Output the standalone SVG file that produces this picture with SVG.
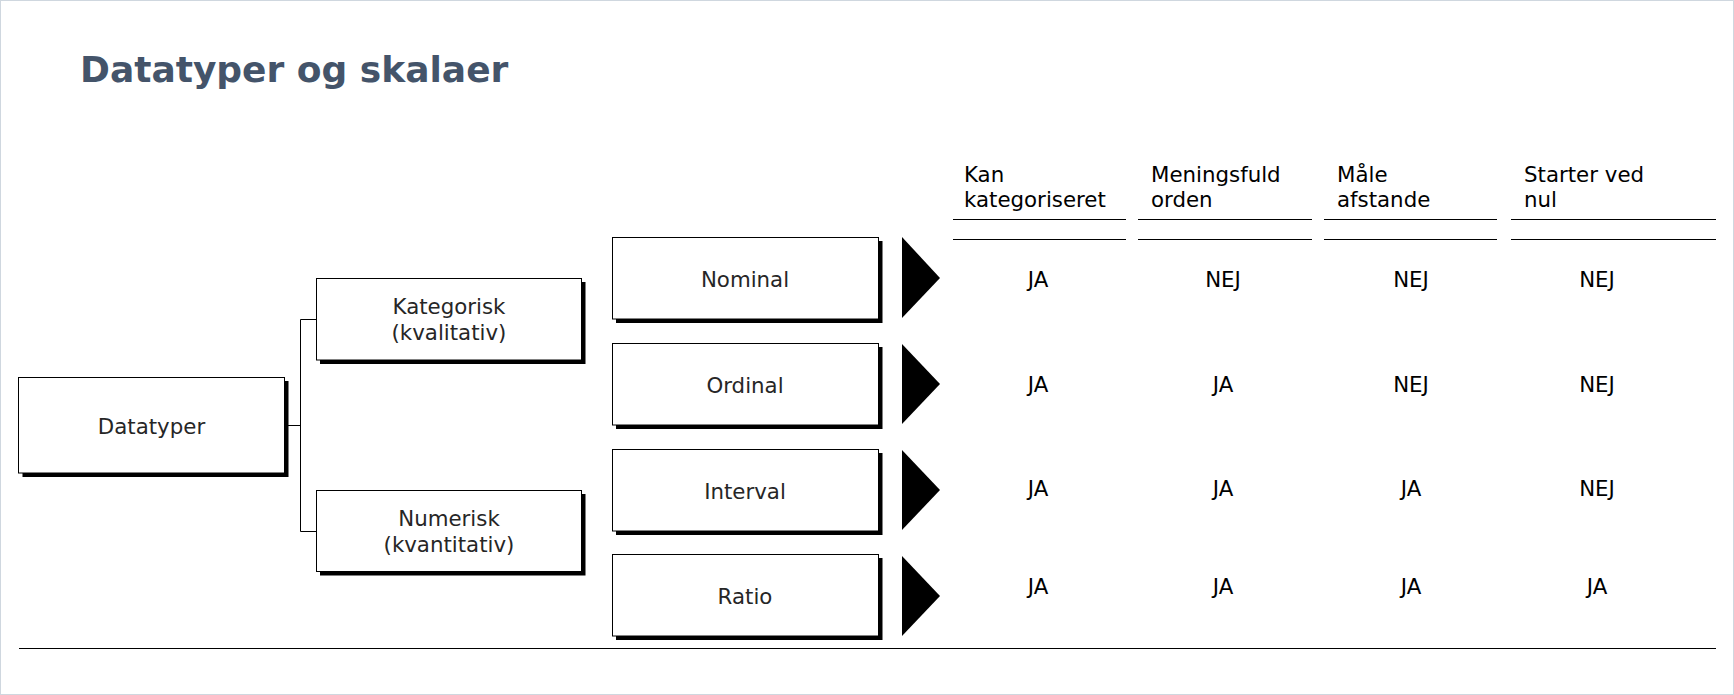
<svg xmlns="http://www.w3.org/2000/svg" width="1734" height="695" viewBox="0 0 1734 695">
<style>
.bg{fill:#ffffff;stroke:#cfd7df;stroke-width:1}
.title{font-family:"DejaVu Sans",sans-serif;font-weight:bold;font-size:36px;fill:#44546a}
.box{fill:#ffffff;stroke:#000000;stroke-width:1}
.shadow{fill:#000000}
.lbl{font-family:"DejaVu Sans",sans-serif;font-size:21.33px;fill:#262626;text-anchor:middle}
.hdr{font-family:"DejaVu Sans",sans-serif;font-size:21.33px;fill:#000000}
.val{font-family:"DejaVu Sans",sans-serif;font-size:21.33px;fill:#000000;text-anchor:middle}
.ln{stroke:#000000;stroke-width:1;fill:none}
.tri{fill:#000000}
</style>
<rect class="bg" x="0.5" y="0.5" width="1733" height="694"/>
<text class="title" x="80" y="82">Datatyper og skalaer</text>

<g id="connectors">
<polyline class="ln" points="284.5,425.5 300.5,425.5"/>
<polyline class="ln" points="316,319.5 300.5,319.5 300.5,531.5 316,531.5"/>
</g>

<g id="node-datatyper">
<rect class="shadow" x="22.5" y="381" width="266" height="96"/>
<rect class="box" x="18.5" y="377.5" width="266" height="95.5"/>
<text class="lbl" x="151.5" y="434">Datatyper</text>
</g>

<g id="node-kategorisk">
<rect class="shadow" x="320" y="282" width="265.5" height="82"/>
<rect class="box" x="316.5" y="278.5" width="265" height="81.5"/>
<text class="lbl" x="449" y="314">Kategorisk</text>
<text class="lbl" x="449" y="340">(kvalitativ)</text>
</g>

<g id="node-numerisk">
<rect class="shadow" x="320" y="494" width="265.5" height="81.5"/>
<rect class="box" x="316.5" y="490.5" width="265" height="81"/>
<text class="lbl" x="449" y="526">Numerisk</text>
<text class="lbl" x="449" y="552">(kvantitativ)</text>
</g>

<g id="node-nominal">
<rect class="shadow" x="616" y="241" width="266.5" height="82"/>
<rect class="box" x="612.5" y="237.5" width="266" height="81.5"/>
<text class="lbl" x="745" y="287">Nominal</text>
<polygon class="tri" points="902,237 940,278 902,318"/>
</g>

<g id="node-ordinal">
<rect class="shadow" x="616" y="347" width="266.5" height="82"/>
<rect class="box" x="612.5" y="343.5" width="266" height="81.5"/>
<text class="lbl" x="745" y="393">Ordinal</text>
<polygon class="tri" points="902,344 940,384 902,424"/>
</g>

<g id="node-interval">
<rect class="shadow" x="616" y="453" width="266.5" height="82"/>
<rect class="box" x="612.5" y="449.5" width="266" height="81.5"/>
<text class="lbl" x="745" y="499">Interval</text>
<polygon class="tri" points="902,450 940,490 902,530"/>
</g>

<g id="node-ratio">
<rect class="shadow" x="616" y="558" width="266.5" height="82"/>
<rect class="box" x="612.5" y="554.5" width="266" height="81.5"/>
<text class="lbl" x="745" y="604">Ratio</text>
<polygon class="tri" points="902,556 940,596 902,636"/>
</g>

<g id="table-header">
<text class="hdr" x="964" y="182">Kan</text>
<text class="hdr" x="964" y="207">kategoriseret</text>
<text class="hdr" x="1151" y="182">Meningsfuld</text>
<text class="hdr" x="1151" y="207">orden</text>
<text class="hdr" x="1337" y="182">Måle</text>
<text class="hdr" x="1337" y="207">afstande</text>
<text class="hdr" x="1524" y="182">Starter ved</text>
<text class="hdr" x="1524" y="207">nul</text>
<g class="ln">
<line x1="953" y1="219.5" x2="1126" y2="219.5"/>
<line x1="1138" y1="219.5" x2="1312" y2="219.5"/>
<line x1="1324" y1="219.5" x2="1497" y2="219.5"/>
<line x1="1511" y1="219.5" x2="1716" y2="219.5"/>
<line x1="953" y1="239.5" x2="1126" y2="239.5"/>
<line x1="1138" y1="239.5" x2="1312" y2="239.5"/>
<line x1="1324" y1="239.5" x2="1497" y2="239.5"/>
<line x1="1511" y1="239.5" x2="1716" y2="239.5"/>
</g>
</g>

<g id="table-values">
<text class="val" x="1038" y="287">JA</text>
<text class="val" x="1223" y="287">NEJ</text>
<text class="val" x="1411" y="287">NEJ</text>
<text class="val" x="1597" y="287">NEJ</text>
<text class="val" x="1038" y="392">JA</text>
<text class="val" x="1223" y="392">JA</text>
<text class="val" x="1411" y="392">NEJ</text>
<text class="val" x="1597" y="392">NEJ</text>
<text class="val" x="1038" y="496">JA</text>
<text class="val" x="1223" y="496">JA</text>
<text class="val" x="1411" y="496">JA</text>
<text class="val" x="1597" y="496">NEJ</text>
<text class="val" x="1038" y="594">JA</text>
<text class="val" x="1223" y="594">JA</text>
<text class="val" x="1411" y="594">JA</text>
<text class="val" x="1597" y="594">JA</text>
</g>

<line class="ln" x1="19" y1="648.5" x2="1716" y2="648.5"/>
</svg>
